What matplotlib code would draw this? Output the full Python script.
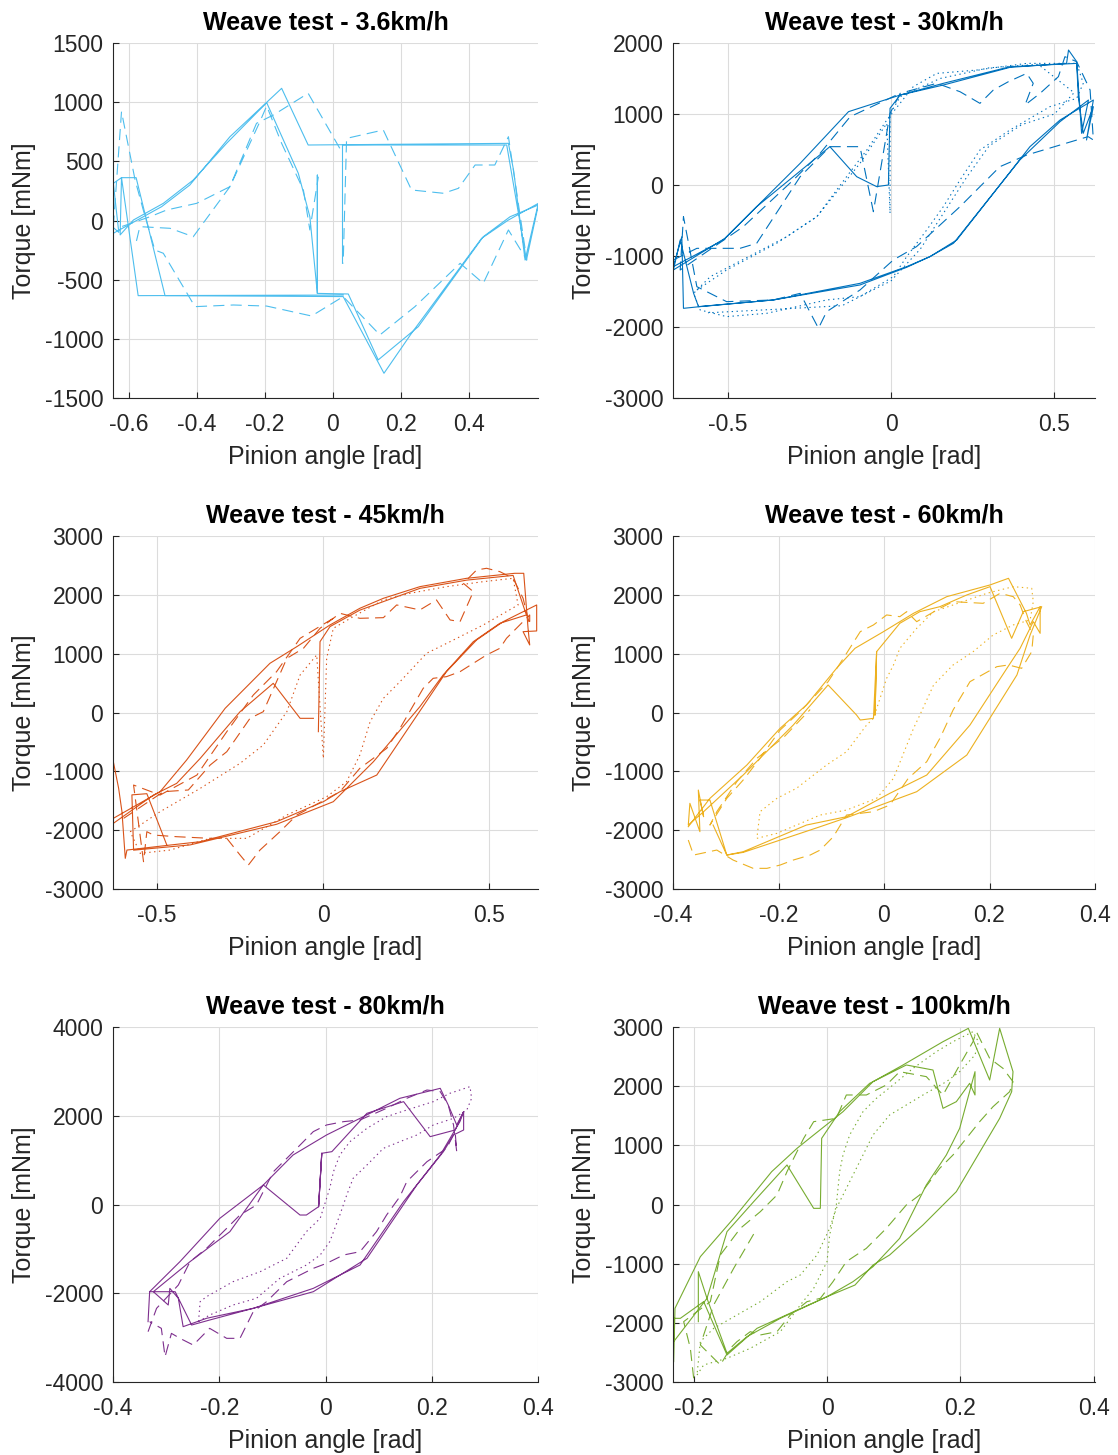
import numpy as np
import matplotlib
matplotlib.use("Agg")
import matplotlib.pyplot as plt

plt.rcParams['font.family'] = ['Liberation Sans', 'DejaVu Sans']
plt.rcParams['axes.unicode_minus'] = False
plt.rcParams['lines.scale_dashes'] = False

nan = np.nan

# --- 3.6 km/h ---
v1_solid_x = [-0.646, -0.504, -0.421, -0.303, -0.151, -0.073, 0.516, 0.531, 0.565, 0.604, 0.516, 0.437,
              0.231, 0.150, 0.030, -0.494, -0.579, -0.622, -0.626, -0.587, -0.499, -0.411, -0.313, -0.195,
              -0.102, -0.068, -0.046, -0.046, -0.046, 0.045, 0.133, 0.251, 0.442, 0.521, 0.604, 0.569,
              0.511, 0.028, 0.028, nan, 0.030, -0.573, -0.622, -0.646, -0.630, -0.646]
v1_solid_y = [-108, 117, 300, 708, 1117, 638, 652, 427, -334, 145, 4, -151,
              -953, -1291, -643, -635, 362, 362, -122, 4, 145, 342, 652, 996,
              399, 32, -616, 384, -616, -621, -1178, -897, -137, 32, 131, -334,
              638, 638, -362, nan, -630, -635, 362, 314, -100, -60]
v1_dash_x = [-0.646, -0.622, -0.582, -0.558, -0.524, -0.499, -0.406, -0.293, -0.195, -0.063, 0.030, 0.138,
             0.241, 0.374, 0.442, 0.516, 0.570, 0.545, 0.516, 0.476, 0.418, 0.369, 0.325, 0.231, 0.148,
             0.040, 0.030, nan, 0.020, -0.073, -0.175, -0.225, -0.303, -0.411, -0.479, -0.568, -0.582,
             nan, -0.620, -0.538, -0.489, -0.401, -0.303, -0.215, -0.195, -0.151, -0.087, -0.068, -0.043]
v1_dash_y = [-52, 920, 342, 89, -249, -277, -728, -714, -723, -807, -643, -967,
             -728, -362, -531, -80, -334, 145, 708, 469, 469, 272, 230, 258, 765,
             694, -362, nan, 610, 1075, 892, 821, 286, -137, -66, -52, -221,
             nan, -50, 32, 89, 145, 286, 835, 968, 652, 258, -80, 370]

# --- 30 km/h ---
v2_solid_x = [-0.666, -0.508, -0.411, -0.278, -0.130, 0.028, 0.160, 0.364, 0.568, 0.573, 0.588, 0.619,
              0.598, 0.619, 0.517, 0.425, 0.201, 0.119, 0.048, -0.095, -0.360, -0.584, -0.635, -0.640,
              -0.666, -0.513, -0.411, -0.187, -0.105, -0.044, -0.008, -0.003, 0.028, 0.160, 0.364, 0.537,
              0.543, 0.568, 0.583, 0.604, 0.517, 0.394, 0.191, 0.119, 0.048, -0.095, -0.360, -0.589,
              -0.604, -0.645, -0.666]
v2_solid_y = [-1197, -751, -305, 305, 1033, 1267, 1432, 1666, 1713, 1244, 728, 1103,
              634, 1197, 915, 540, -775, -1009, -1150, -1385, -1619, -1713, -1737, -728,
              -1150, -775, -305, 540, 117, -23, 0, 1080, 1267, 1408, 1657, 1713,
              1901, 1737, 728, 1197, 892, 352, -821, -1009, -1159, -1408, -1619, -1713,
              -1525, -775, -1200]
v2_dash_x = [-0.666, -0.594, -0.462, -0.411, -0.278, -0.187, -0.095, -0.054, -0.003, 0.028, 0.140, 0.211,
             0.272, 0.313, 0.359, 0.415, 0.435, 0.410, 0.456, 0.512, 0.532, 0.568, 0.609, 0.619, 0.603,
             0.517, 0.415, 0.333, 0.211, 0.078, 0.007, -0.095, -0.197, -0.222, -0.278, -0.360, -0.503,
             -0.594, -0.635, -0.645, -0.452, -0.299, -0.217, -0.125, 0.028]
v2_dash_y = [-1056, -892, -892, -821, 117, 540, 540, -376, 1009, 1291, 1432, 1314,
             1150, 1338, 1455, 1572, 1432, 1127, 1291, 1526, 1807, 1737, 1338, 634, 681,
             563, 422, 258, -305, -868, -1056, -1479, -1784, -2018, -1526, -1619, -1643,
             -1432, -446, -1197, -587, 70, 446, 962, 1291]
v2_dot_x = [-0.594, -0.503, -0.350, -0.227, -0.136, -0.074, -0.013, 0.068, 0.140, 0.262, 0.415, 0.568,
            0.588, 0.568, 0.486, 0.364, 0.272, 0.211, 0.160, 0.109, 0.048, 0.007, -0.095, -0.197,
            -0.380, -0.503, -0.584, -0.604, -0.553, -0.319, -0.227, -0.095, -0.013, -0.003, -0.003,
            0.028, 0.150, 0.300, 0.450, 0.560, 0.500, 0.400, 0.300, 0.230, 0.160, 0.090, 0.000,
            -0.150, -0.350, -0.560]
v2_dot_y = [-1479, -1197, -821, -446, 117, 493, 915, 1385, 1572, 1619, 1713, 1713,
            1432, 1220, 1103, 775, 493, 70, -305, -634, -1009, -1291, -1572, -1619,
            -1807, -1854, -1760, -1526, -1291, -728, -446, 305, 868, -399, 1000,
            1244, 1500, 1650, 1700, 1300, 1000, 850, 550, 100, -400, -900, -1350,
            -1700, -1750, -1800]

# --- 45 km/h ---
v3_solid_x = [-0.632, -0.491, -0.411, -0.295, -0.160, -0.079, 0.021, 0.111, 0.182, 0.292, 0.433, 0.578,
              0.605, 0.618, 0.623, 0.603, 0.644, 0.644, 0.543, 0.463, 0.372, 0.162, 0.051, 0.001,
              -0.140, -0.370, -0.461, -0.591, -0.596, -0.606, -0.616, -0.632, -0.632, -0.511, -0.441,
              -0.370, -0.250, -0.150, -0.069, -0.029, nan, -0.014, -0.009, 0.021, 0.111, 0.292, 0.433,
              0.573, 0.613, 0.533, 0.453, 0.362, 0.292, 0.152, 0.031, -0.140, -0.400, -0.571, -0.576,
              -0.531, -0.471]
v3_solid_y = [-1799, -1346, -807, 71, 836, 1119, 1488, 1771, 1941, 2139, 2281, 2366,
              2366, 1431, 1148, 1374, 1386, 1828, 1544, 1233, 694, -1063, -1346, -1516,
              -1856, -2196, -2253, -2338, -2479, -1686, -1289, -836, -1884, -1403, -1204,
              -779, 14, 496, -99, -99, nan, -326, 1204, 1460, 1740, 2110, 2250,
              2330, 1658, 1516, 1204, 638, 99, -836, -1516, -1900, -2250, -2340, -1400,
              -1380, -2250]
v3_dash_x = [-0.601, -0.481, -0.406, -0.340, -0.290, -0.220, -0.180, -0.109, -0.059, -0.009, 0.051, 0.111,
             0.182, 0.222, 0.292, 0.342, 0.383, 0.413, 0.453, 0.423, 0.463, 0.493, 0.533, 0.573, 0.603,
             0.623, 0.623, 0.553, 0.533, 0.493, 0.453, 0.413, 0.372, 0.332, 0.302, 0.232, 0.192, 0.111,
             0.051, -0.079, -0.130, -0.190, -0.225, -0.250, -0.290, -0.340, -0.441, -0.511, -0.531,
             -0.541, -0.571, -0.491, -0.380, -0.290, -0.210, -0.140, -0.069, 0.031]
v3_dash_y = [-1799, -1346, -1317, -892, -666, -99, 14, 921, 1091, 1431, 1686, 1601,
             1612, 1828, 1743, 1913, 1573, 1544, 2054, 2196, 2423, 2451, 2394, 2281, 1941,
             1488, 1658, 1261, 1091, 978, 836, 694, 609, 581, 411, -269, -609, -949,
             -1346, -1743, -2026, -2338, -2593, -2423, -2139, -2139, -2111, -2083, -2026,
             -2536, -1233, -1403, -1063, -326, 298, 694, 1261, 1601]
v3_dot_x = [-0.581, -0.491, -0.370, -0.250, -0.180, -0.109, -0.069, -0.019, 0.001, 0.011, 0.031, 0.091,
            0.182, 0.262, 0.372, 0.483, 0.573, 0.588, 0.483, 0.383, 0.312, 0.232, 0.182, 0.142, 0.111,
            0.071, 0.011, -0.109, -0.230, -0.340, -0.461, -0.551, -0.581]
v3_dot_y = [-2026, -1686, -1289, -864, -553, 14, 638, 978, -779, 921, 1431, 1629,
            1913, 2026, 2139, 2224, 2281, 1828, 1488, 1204, 1006, 524, 241, -156, -723,
            -1176, -1431, -1743, -2139, -2139, -2338, -2394, -2026]

# --- 60 km/h ---
v4_solid_x = [-0.371, -0.330, -0.260, -0.197, -0.147, -0.090, -0.055, -0.001, 0.056, 0.119, 0.201, 0.236,
              0.270, 0.277, 0.296, 0.296, 0.283, 0.258, 0.233, 0.163, 0.081, 0.011, -0.071, -0.147,
              -0.267, -0.298, -0.330, -0.349, -0.342, -0.352, -0.349, -0.368, -0.371, -0.342, -0.267,
              -0.172, -0.106, -0.052, -0.045, -0.020, -0.014, -0.017, -0.014, 0.030, 0.068, 0.106,
              0.157, 0.201, 0.242, 0.264, 0.299, 0.277, 0.252, 0.157, 0.062, -0.071, -0.121, -0.267,
              -0.298, -0.324]
v4_solid_y = [-1941, -1459, -893, -269, 128, 751, 1091, 1374, 1686, 1969, 2168, 2281,
              1686, 1488, 1799, 1346, 1544, 1091, 751, -213, -1063, -1374, -1771, -1913,
              -2366, -2423, -1488, -1488, -1771, -1318, -2026, -1544, -1913, -1686, -1063,
              -213, 468, -43, -128, -99, 1034, -43, 1034, 1516, 1714, 1799,
              1998, 2139, 1261, 1714, 1799, 1318, 638, -723, -1346, -1788, -1941, -2378,
              -2423, -1913]
v4_dash_x = [-0.371, -0.361, -0.346, -0.317, -0.286, -0.248, -0.222, -0.197, -0.172, -0.140, -0.121, -0.096,
             -0.071, -0.020, 0.011, 0.046, 0.081, 0.106, 0.131, 0.163, 0.214, 0.236, 0.261, 0.280, 0.283,
             0.270, 0.258, 0.245, 0.220, 0.188, 0.131, 0.106, 0.062, 0.043, 0.030, 0.005, -0.020, -0.045,
             -0.077, -0.106, -0.159, -0.197, -0.235, -0.267, -0.298, -0.330, -0.317, -0.279, -0.241,
             -0.190, -0.140]
v4_dash_y = [-2168, -2423, -2394, -2338, -2508, -2649, -2649, -2593, -2508, -2423, -2338, -2111,
             -1743, -1686, -1573, -1119, -836, -439, 43, 524, 779, 808, 751, 1034, 1318,
             1544, 1828, 1969, 2026, 1856, 1884, 1771, 1544, 1714, 1629, 1658, 1488, 1374,
             921, 524, 14, -298, -779, -1148, -1459, -1913, -1686, -1176, -779,
             -420, 50]
v4_dot_x = [-0.241, -0.203, -0.121, -0.071, -0.014, 0.018, 0.056, 0.068, 0.094, 0.131, 0.169, 0.207,
            0.245, 0.277, 0.283, 0.280, 0.245, 0.195, 0.131, 0.094, 0.062, 0.030, 0.018, 0.005, -0.020,
            -0.033, -0.071, -0.109, -0.166, -0.203, -0.235, -0.241]
v4_dot_y = [-2139, -2054, -1743, -1658, -1459, -1119, -269, -43, 468, 808, 1034, 1318,
            1488, 1573, 1884, 2111, 2139, 2026, 1828, 1714, 1431, 1091, 808, 581, -99,
            -213, -666, -893, -1289, -1459, -1686, -2139]

# --- 80 km/h ---
v5_solid_x = [-0.331, -0.274, -0.199, -0.117, -0.061, 0.002, 0.065, 0.140, 0.216, 0.231, 0.247, 0.260,
              0.260, 0.241, 0.222, 0.172, 0.078, -0.023, -0.136, -0.224, -0.268, -0.277, -0.293, -0.296,
              -0.324, -0.255, -0.180, -0.117, -0.048, -0.036, -0.013, -0.007, -0.013, -0.007, 0.012,
              0.078, 0.147, 0.197, 0.244, 0.260, 0.253, 0.216, 0.147, 0.065, -0.023, -0.136, -0.218,
              -0.252, -0.283, -0.331, -0.334]
v5_solid_y = [-1965, -1288, -312, 440, 1116, 1567, 1942, 2393, 2618, 2243, 1792, 2092,
              1679, 1567, 1191, 440, -1213, -1965, -2340, -2565, -2753, -2114, -1890, -2265,
              -1965, -1288, -612, 440, -237, -237, -49, 1154, -49, 1154, 1191,
              2055, 2318, 1529, 1679, 2092, 1867, 1116, 64, -1364, -1890, -2340, -2603,
              -2716, -1965, -1965, -2640]
v5_dash_x = [-0.334, -0.318, -0.277, -0.255, -0.224, -0.186, -0.161, -0.130, -0.098, -0.054, -0.023, 0.002,
             0.034, 0.065, 0.115, 0.153, 0.191, 0.216, 0.231, 0.241, 0.247, 0.244, 0.228, 0.191, 0.153,
             0.140, 0.115, 0.096, 0.065, 0.034, 0.002, -0.023, -0.073, -0.111, -0.136, -0.161, -0.186,
             -0.218, -0.249, -0.274, -0.290, -0.302, -0.309, -0.331]
v5_dash_y = [-2866, -2340, -1815, -1288, -988, -537, -237, -11, 740, 1266, 1642, 1792,
             1867, 1905, 2168, 2393, 2580, 2543, 2243, 1792, 1191, 1642, 1266, 965, 515,
             177, -237, -612, -1063, -1138, -1326, -1439, -1740, -2190, -2415, -3016, -3016,
             -2791, -3167, -3016, -2904, -3430, -2791, -2640]
v5_dot_x = [-0.239, -0.236, -0.224, -0.174, -0.123, -0.073, -0.036, -0.010, 0.008, 0.015, 0.027, 0.046,
            0.078, 0.115, 0.153, 0.203, 0.234, 0.272, 0.275, 0.266, 0.241, 0.203, 0.172, 0.140, 0.109,
            0.078, 0.052, 0.040, 0.027, 0.008, -0.010, -0.036, -0.086, -0.130, -0.174, -0.218, -0.239]
v5_dot_y = [-2640, -2190, -2077, -1739, -1514, -1213, -612, -312, 364, 740, 1116, 1416,
            1717, 1980, 2130, 2318, 2505, 2656, 2393, 2130, 1942, 1792, 1566, 1416, 1266,
            890, 590, 214, -237, -838, -1138, -1364, -1664, -2114, -2265, -2490, -2640]

# --- 100 km/h ---
v6_solid_x = [-0.230, -0.228, -0.190, -0.140, -0.083, -0.045, -0.020, 0.024, 0.069, 0.114, 0.174, 0.212,
              0.244, 0.259, 0.279, 0.277, 0.259, 0.194, 0.144, 0.094, 0.069, 0.042, -0.000, -0.050,
              -0.105, -0.150, -0.185, -0.220, -0.230, -0.230, -0.180, -0.150, -0.110, -0.060, -0.020,
              -0.010, -0.008, 0.019, 0.064, 0.119, 0.159, 0.174, 0.194, 0.214, 0.222, 0.222, 0.199,
              0.179, 0.149, 0.109, 0.069, 0.039, -0.000, -0.070, -0.120, -0.150, -0.180, -0.193, -0.193]
v6_solid_y = [-2655, -1754, -882, -234, 555, 949, 1175, 1569, 2076, 2358, 2752, 2977,
              2104, 2977, 2245, 1907, 1456, 217, -346, -853, -1023, -1361, -1558, -1811,
              -2093, -2543, -1642, -1924, -1924, -2318, -1586, -459, 48, 668, -65,
              -65, 1118, 1569, 2048, 2358, 2273, 1625, 1738, 2048, 1851, 2245, 1287,
              837, 330, -572, -1051, -1304, -1558, -1924, -2234, -2515, -1586, -1135, -1980]
v6_dash_x = [-0.200, -0.205, -0.215, -0.175, -0.160, -0.130, -0.100, -0.075, -0.060, -0.035, -0.020, 0.014,
             0.029, 0.059, 0.089, 0.109, 0.149, 0.174, 0.199, 0.219, 0.224, 0.244, 0.264, 0.279, 0.274,
             0.249, 0.229, 0.209, 0.189, 0.169, 0.139, 0.119, 0.089, 0.059, 0.029, 0.009, -0.010, -0.030,
             -0.055, -0.075, -0.100, -0.115, -0.135, -0.145, -0.160, -0.190, -0.170, -0.140, -0.110]
v6_dash_y = [-2937, -2430, -1980, -1642, -853, -403, -121, 161, 555, 1118, 1400, 1456,
             1851, 1851, 2020, 2245, 2161, 1851, 2358, 2752, 2921, 2470, 2301, 2076, 1907,
             1653, 1400, 1118, 837, 611, 161, -8, -403, -741, -966, -1304, -1586, -1642,
             -1867, -2149, -2205, -2149, -2318, -2430, -2712, -2374, -1698, -1079, -500]
v6_dot_x = [-0.195, -0.185, -0.150, -0.115, -0.070, -0.040, -0.020, -0.000, 0.004, 0.014, 0.019, 0.024,
            0.034, 0.054, 0.074, 0.099, 0.129, 0.164, 0.189, 0.219, 0.227, 0.222, 0.199, 0.179, 0.144,
            0.119, 0.094, 0.069, 0.049, 0.029, 0.014, 0.004, -0.015, -0.040, -0.060, -0.100, -0.135,
            -0.170, -0.190, -0.195]
v6_dot_y = [-2882, -2712, -2599, -2430, -2149, -1698, -1417, -966, -515, -8, 555, 837,
            1175, 1569, 1794, 2020, 2301, 2583, 2752, 2921, 2752, 2527, 2245, 2076, 1851,
            1682, 1513, 1175, 724, 273, -65, -403, -853, -1191, -1304, -1642, -1867,
            -2093, -2318, -2882]

panels = [
    dict(title='Weave test - 3.6km/h', color='#4DBEEE',
         xlim=(-0.647, 0.603), ylim=(-1500, 1500),
         xticks=[-0.6, -0.4, -0.2, 0, 0.2, 0.4], yticks=np.arange(-1500, 1501, 500),
         lines=[(v1_solid_x, v1_solid_y, '-'), (v1_dash_x, v1_dash_y, '--')]),
    dict(title='Weave test - 30km/h', color='#0072BD',
         xlim=(-0.667, 0.624), ylim=(-3000, 2000),
         xticks=[-0.5, 0, 0.5], yticks=np.arange(-3000, 2001, 1000),
         lines=[(v2_solid_x, v2_solid_y, '-'), (v2_dash_x, v2_dash_y, '--'), (v2_dot_x, v2_dot_y, ':')]),
    dict(title='Weave test - 45km/h', color='#D95319',
         xlim=(-0.633, 0.648), ylim=(-3000, 3000),
         xticks=[-0.5, 0, 0.5], yticks=np.arange(-3000, 3001, 1000),
         lines=[(v3_solid_x, v3_solid_y, '-'), (v3_dash_x, v3_dash_y, '--'), (v3_dot_x, v3_dot_y, ':')]),
    dict(title='Weave test - 60km/h', color='#EDB120',
         xlim=(-0.4, 0.4), ylim=(-3000, 3000),
         xticks=[-0.4, -0.2, 0, 0.2, 0.4], yticks=np.arange(-3000, 3001, 1000),
         lines=[(v4_solid_x, v4_solid_y, '-'), (v4_dash_x, v4_dash_y, '--'), (v4_dot_x, v4_dot_y, ':')]),
    dict(title='Weave test - 80km/h', color='#7E2F8E',
         xlim=(-0.4, 0.4), ylim=(-4000, 4000),
         xticks=[-0.4, -0.2, 0, 0.2, 0.4], yticks=np.arange(-4000, 4001, 2000),
         lines=[(v5_solid_x, v5_solid_y, '-'), (v5_dash_x, v5_dash_y, '--'), (v5_dot_x, v5_dot_y, ':')]),
    dict(title='Weave test - 100km/h', color='#77AC30',
         xlim=(-0.231, 0.402), ylim=(-3000, 3000),
         xticks=[-0.2, 0, 0.2, 0.4], yticks=np.arange(-3000, 3001, 1000),
         lines=[(v6_solid_x, v6_solid_y, '-'), (v6_dash_x, v6_dash_y, '--'), (v6_dot_x, v6_dot_y, ':')]),
]

styles = {'-': '-', '--': (0, (8, 4.5)), ':': (0, (1, 2.5))}

W, H = 1118, 1455
fig = plt.figure(figsize=(W / 100, H / 100), dpi=100)

col_x = [113, 673]
col_w = [425, 422]
row_y = [(43, 398), (536, 889), (1027, 1382)]

for i, p in enumerate(panels):
    r, c = divmod(i, 2)
    top, bot = row_y[r]
    ax = fig.add_axes([col_x[c] / W, 1 - bot / H, col_w[c] / W, (bot - top) / H])
    for x, y, ls in p['lines']:
        ax.plot(x, y, color=p['color'], lw=0.8, linestyle=styles[ls])
    ax.set_xlim(*p['xlim'])
    ax.set_ylim(*p['ylim'])
    ax.set_xticks(p['xticks'])
    ax.set_yticks(p['yticks'])
    ax.set_xticklabels(['%g' % t for t in p['xticks']])
    ax.set_yticklabels(['%d' % t for t in p['yticks']])
    ax.grid(True, color='#dcdcdc', lw=0.8)
    ax.set_axisbelow(True)
    for s in ['top', 'right']:
        ax.spines[s].set_visible(False)
    for s in ['left', 'bottom']:
        ax.spines[s].set_linewidth(0.8)
        ax.spines[s].set_color('#262626')
    ax.tick_params(direction='in', length=4, width=0.8, labelsize=16.5, colors='#262626')
    ax.tick_params(axis='x', pad=10.5)
    ax.tick_params(axis='y', pad=7)
    ax.set_title(p['title'], fontsize=18, fontweight='bold', pad=10)
    ax.set_xlabel('Pinion angle [rad]', fontsize=18, labelpad=7, color='#262626')
    ax.set_ylabel('Torque [mNm]', fontsize=18, labelpad=6, color='#262626')

fig.savefig('out.png', dpi=100)
